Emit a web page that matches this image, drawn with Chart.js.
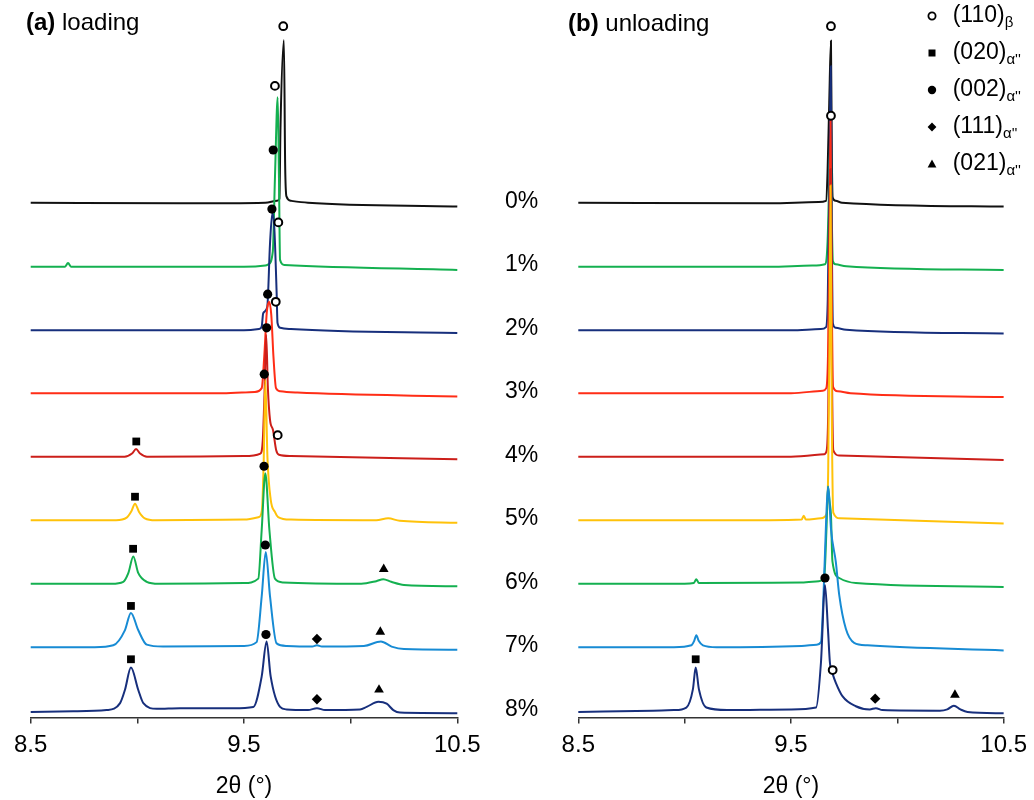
<!DOCTYPE html>
<html><head><meta charset="utf-8">
<script src="https://cdn.jsdelivr.net/npm/chart.js@4.4.1/dist/chart.umd.min.js"></script>
<style>
html,body{margin:0;padding:0;background:#fff;}
#wrap{position:relative;width:1034px;height:800px;font-family:"Liberation Sans",Arial,sans-serif;color:#000;overflow:hidden;}
#wrap canvas{position:absolute;left:0;top:0;}
.lbl{position:absolute;white-space:nowrap;font-size:23px;line-height:23px;}
.ttl{position:absolute;white-space:nowrap;font-size:24px;line-height:24px;}
.pct{position:absolute;width:60px;text-align:center;font-size:23px;line-height:23px;}
.sub{font-size:15px;vertical-align:-5px;}
.sym{position:absolute;}
</style></head><body>
<div id="wrap">
<canvas id="cA" width="1034" height="800" style="width:1034px;height:800px"></canvas>
<canvas id="cB" width="1034" height="800" style="width:1034px;height:800px"></canvas>
<div class="ttl" style="left:26px;top:10px"><b>(a)</b> loading</div>
<div class="ttl" style="left:568px;top:11px"><b>(b)</b> unloading</div>
<div id="pcts"></div>
<div id="legend"></div>
</div>
<script>
// ---------- categories / labels ----------
const strains = ['0%','1%','2%','3%','4%','5%','6%','7%','8%'];
const xTicks = [8.5, 9.0, 9.5, 10.0, 10.5];
const xTickLabels = ['8.5', '', '9.5', '', '10.5'];
const xTitle = '2θ (°)';
const legendNames = ['(110)', '(020)', '(002)', '(111)', '(021)'];
const legendSubs = ['β', "α''", "α''", "α''", "α''"];

// ---------- (a) loading: [2θ, intensity above own baseline] ----------
const load0 = [[8.5,0.02],[9.2,0.01],[9.6,0.02],[9.655,0.05],[9.666,0.08],[9.671,1.2],[9.687,2.58],[9.693,0.6],[9.699,0.12],[9.72,0.05],[9.8,0.02],[10.5,-0.04]];
const load1 = [[8.5,0.01],[8.66,0.01],[8.675,0.07],[8.69,0.01],[9.5,0.01],[9.6,0.03],[9.614,0.05],[9.635,0.25],[9.645,1.4],[9.658,2.68],[9.664,1.4],[9.669,0.12],[9.69,0.04],[10.5,-0.04]];
const load2 = [[8.5,0.01],[9.5,0.01],[9.57,0.03],[9.583,0.07],[9.59,0.28],[9.609,0.38],[9.622,1.38],[9.633,1.86],[9.642,1.63],[9.653,0.6],[9.657,0.13],[9.67,0.05],[9.72,0.03],[10.5,-0.03]];
const load3 = [[8.5,0.02],[9.4,0.02],[9.55,0.04],[9.583,0.1],[9.595,0.6],[9.607,1.3],[9.618,1.46],[9.628,1.25],[9.638,0.6],[9.65,0.1],[9.67,0.05],[9.75,0.03],[10.5,-0.03]];
const load4 = [[8.5,0.02],[8.94,0.02],[8.975,0.07],[8.994,0.14],[9.013,0.07],[9.045,0.02],[9.5,0.03],[9.577,0.07],[9.588,0.28],[9.596,1.0],[9.604,1.94],[9.612,1.1],[9.622,0.6],[9.636,0.44],[9.651,0.12],[9.664,0.05],[9.72,0.03],[10.5,-0.02]];
const load5 = [[8.5,0.02],[8.9,0.02],[8.95,0.06],[8.972,0.16],[8.989,0.28],[9.008,0.15],[9.035,0.05],[9.085,0.02],[9.5,0.03],[9.57,0.07],[9.584,0.18],[9.592,0.9],[9.6,2.23],[9.61,1.0],[9.625,0.35],[9.645,0.15],[9.66,0.07],[9.72,0.03],[10.12,0.02],[10.176,0.05],[10.23,0.01],[10.5,-0.02]];
const load6 = [[8.5,0.02],[8.88,0.02],[8.934,0.05],[8.958,0.19],[8.981,0.45],[9.004,0.19],[9.044,0.05],[9.1,0.02],[9.5,0.03],[9.567,0.1],[9.583,0.87],[9.6,1.76],[9.619,0.87],[9.645,0.1],[9.684,0.04],[10.05,0.02],[10.12,0.06],[10.153,0.09],[10.19,0.05],[10.25,0.0],[10.5,-0.02]];
const load7 = [[8.5,0.02],[8.8,0.02],[8.887,0.05],[8.942,0.29],[8.97,0.56],[9.004,0.29],[9.044,0.06],[9.12,0.03],[9.5,0.04],[9.559,0.1],[9.583,0.82],[9.602,1.52],[9.622,0.82],[9.653,0.08],[9.7,0.04],[9.82,0.03],[9.842,0.05],[9.865,0.03],[10.062,0.04],[10.142,0.11],[10.192,0.03],[10.25,-0.01],[10.5,-0.02]];
const load8 = [[8.5,0.0],[8.7,0.01],[8.856,0.03],[8.919,0.14],[8.942,0.35],[8.97,0.7],[9.004,0.35],[9.028,0.14],[9.091,0.05],[9.2,0.06],[9.45,0.06],[9.544,0.08],[9.583,0.56],[9.606,1.11],[9.625,0.56],[9.669,0.08],[9.7,0.04],[9.8,0.03],[9.842,0.06],[9.88,0.03],[10.044,0.04],[10.075,0.08],[10.13,0.16],[10.169,0.13],[10.2,0.03],[10.231,-0.01],[10.5,-0.02]];

// ---------- (b) unloading ----------
const unload0 = [[8.5,0.02],[9.4,0.01],[9.63,0.03],[9.665,0.05],[9.672,0.5],[9.68,1.6],[9.688,2.57],[9.692,0.8],[9.696,0.1],[9.71,0.05],[9.74,0.02],[10.5,-0.04]];
const unload1 = [[8.5,0.01],[9.4,0.01],[9.6,0.03],[9.66,0.05],[9.672,0.4],[9.68,1.4],[9.687,2.29],[9.692,0.8],[9.697,0.1],[9.71,0.05],[9.76,0.02],[10.5,-0.04]];
const unload2 = [[8.5,0.01],[9.5,0.01],[9.64,0.03],[9.665,0.06],[9.673,0.5],[9.681,2.4],[9.687,4.17],[9.692,1.5],[9.697,0.12],[9.71,0.05],[9.76,0.02],[10.5,-0.04]];
const unload3 = [[8.5,0.02],[9.5,0.02],[9.649,0.06],[9.666,0.1],[9.674,0.6],[9.681,2.5],[9.686,4.31],[9.692,1.5],[9.698,0.12],[9.72,0.05],[9.78,0.02],[10.5,-0.04]];
const unload4 = [[8.5,0.02],[9.5,0.02],[9.657,0.06],[9.668,0.12],[9.675,0.7],[9.681,2.6],[9.686,4.55],[9.692,1.6],[9.699,0.12],[9.727,0.04],[10.5,-0.03]];
const unload5 = [[8.5,0.02],[9.4,0.02],[9.55,0.03],[9.56,0.09],[9.57,0.03],[9.64,0.05],[9.668,0.12],[9.675,0.8],[9.681,2.8],[9.686,5.29],[9.692,1.7],[9.699,0.14],[9.73,0.05],[10.5,-0.03]];
const unload6 = [[8.5,0.02],[9.0,0.02],[9.043,0.03],[9.055,0.09],[9.067,0.03],[9.55,0.04],[9.63,0.06],[9.657,0.16],[9.667,0.89],[9.674,1.55],[9.682,1.3],[9.688,1.1],[9.695,0.37],[9.727,0.11],[9.805,0.03],[10.5,-0.03]];
const unload7 = [[8.5,0.02],[8.95,0.02],[9.032,0.05],[9.045,0.12],[9.055,0.21],[9.066,0.12],[9.086,0.05],[9.15,0.02],[9.55,0.04],[9.62,0.06],[9.641,0.1],[9.653,0.84],[9.664,1.89],[9.674,2.55],[9.681,2.3],[9.688,1.89],[9.711,1.36],[9.727,0.84],[9.758,0.31],[9.797,0.09],[9.86,0.05],[10.5,-0.03]];
const unload8 = [[8.5,0.0],[8.85,0.02],[8.95,0.03],[9.008,0.07],[9.039,0.36],[9.052,0.7],[9.067,0.36],[9.102,0.07],[9.2,0.03],[9.5,0.04],[9.618,0.07],[9.641,0.78],[9.66,2.0],[9.674,1.3],[9.683,0.78],[9.696,0.6],[9.711,0.46],[9.742,0.25],[9.805,0.09],[9.87,0.04],[9.899,0.06],[9.93,0.03],[10.2,0.02],[10.235,0.04],[10.266,0.1],[10.297,0.04],[10.33,0.0],[10.5,-0.02]];

// ---------- peak markers: [2θ, trace index, height above that trace's baseline] ----------
const loadBeta110   = [[9.684,0,2.80],[9.645,1,2.86],[9.661,2,1.71],[9.649,3,1.46],[9.658,4,0.36]];
const loadAlpha020  = [[8.995,4,0.26],[8.989,5,0.39],[8.98,6,0.57],[8.97,7,0.67],[8.97,8,0.83]];
const loadAlpha002  = [[9.637,1,1.85],[9.631,2,1.92],[9.611,3,1.58],[9.606,4,2.05],[9.595,5,2.32],[9.594,6,1.87],[9.6,7,1.63],[9.603,8,1.22]];
const loadAlpha111  = [[9.842,7,0.15],[9.842,8,0.2]];
const loadAlpha021  = [[10.155,6,0.25],[10.139,7,0.26],[10.133,8,0.35]];
const unloadBeta110  = [[9.688,0,2.80],[9.688,1,2.39],[9.696,8,0.66]];
const unloadAlpha020 = [[9.052,8,0.83]];
const unloadAlpha002 = [[9.66,8,2.11]];
const unloadAlpha111 = [[9.896,8,0.21]];
const unloadAlpha021 = [[10.271,8,0.27]];

// ---------- styles ----------
const traceColors = ['#111111','#14b050','#172f7c','#ff2d16','#cc1f1a','#ffc20a','#14b050','#178bd4','#172f7c'];
const markerStyles = [
  {ps:'circle', r:3.9, bg:'#ffffff', bw:2},
  {ps:'rect', r:5.5, bg:'#000000', bw:0},
  {ps:'circle', r:4.6, bg:'#000000', bw:0},
  {ps:'rectRot', r:5.2, bg:'#000000', bw:0},
  {ps:'triangle', r:5.6, bg:'#000000', bw:0}
];

Chart.defaults.font.family = '"Liberation Sans", Arial, sans-serif';
Chart.defaults.color = '#000';
const nTr = strains.length;
const Y_MIN = -0.087, Y_MAX = 11.0;

function traceSets(traces) {
  return traces.map((pts, i) => ({
    data: pts.map(p => ({x: p[0], y: (nTr - 1 - i) + p[1]})),
    showLine: true, borderColor: traceColors[i], borderWidth: 2,
    pointRadius: 0, pointHoverRadius: 0, cubicInterpolationMode: 'monotone',
    fill: false, order: 100 - i, clip: false
  }));
}
function markerSets(groups) {
  return groups.map((list, k) => ({
    data: list.map(m => ({x: m[0], y: (nTr - 1 - m[1]) + m[2]})),
    showLine: false, pointStyle: markerStyles[k].ps, pointRadius: markerStyles[k].r,
    pointHoverRadius: markerStyles[k].r, backgroundColor: markerStyles[k].bg,
    borderColor: '#000', borderWidth: markerStyles[k].bw, order: 0, clip: false
  }));
}
function makeChart(id, traces, markers, padL, padR) {
  return new Chart(document.getElementById(id), {
    type: 'scatter',
    data: {datasets: traceSets(traces).concat(markerSets(markers))},
    options: {
      responsive: false, animation: false, events: [],
      layout: {padding: {left: padL, right: padR, top: 13.5, bottom: 0}},
      plugins: {legend: {display: false}, tooltip: {enabled: false}},
      scales: {
        x: {
          type: 'linear', min: 8.5, max: 10.5,
          afterBuildTicks: s => { s.ticks = xTicks.map(v => ({value: v})); },
          afterFit: s => { s.height = 82.5; },
          ticks: {font: {size: 24}, color: '#000', padding: 7, maxRotation: 0,
                  callback: v => { const k = xTicks.indexOf(v); return k < 0 ? '' : xTickLabels[k]; }},
          grid: {drawOnChartArea: false, drawTicks: true, tickLength: 6, color: '#333', lineWidth: 1.5},
          border: {display: true, color: '#333', width: 1.5},
          title: {display: true, text: xTitle, font: {size: 23}, color: '#000', padding: {top: 0, bottom: 0}}
        },
        y: {type: 'linear', display: false, min: Y_MIN, max: Y_MAX}
      }
    }
  });
}

const chartA = makeChart('cA', [load0,load1,load2,load3,load4,load5,load6,load7,load8],
  [loadBeta110, loadAlpha020, loadAlpha002, loadAlpha111, loadAlpha021], 30.7, 1034 - 457.3);
const chartB = makeChart('cB', [unload0,unload1,unload2,unload3,unload4,unload5,unload6,unload7,unload8],
  [unloadBeta110, unloadAlpha020, unloadAlpha002, unloadAlpha111, unloadAlpha021], 578.3, 1034 - 1005);

// strain labels between panels, placed on each trace's baseline via the y scale
const pcts = document.getElementById('pcts');
strains.forEach((s, i) => {
  const py = chartA.scales.y.getPixelForValue(nTr - 1 - i);
  const d = document.createElement('div');
  d.className = 'pct';
  d.style.left = (521.7 - 30) + 'px';
  d.style.top = (py - 15) + 'px';
  d.textContent = s;
  pcts.appendChild(d);
});

// legend
const svgSyms = [
  '<circle cx="7" cy="7" r="3.6" fill="#fff" stroke="#000" stroke-width="1.8"/>',
  '<rect x="3.5" y="3.5" width="7" height="7" fill="#000"/>',
  '<circle cx="7" cy="7" r="4.2" fill="#000"/>',
  '<polygon points="7,2.6 11.4,7 7,11.4 2.6,7" fill="#000"/>',
  '<polygon points="7,2.6 11.4,10.6 2.6,10.6" fill="#000"/>'
];
const lg = document.getElementById('legend');
legendNames.forEach((n, i) => {
  const s = document.createElement('div');
  s.className = 'sym';
  s.style.left = (932 - 7) + 'px';
  s.style.top = (16 + 37 * i - 7) + 'px';
  s.innerHTML = '<svg width="14" height="14" viewBox="0 0 14 14">' + svgSyms[i] + '</svg>';
  lg.appendChild(s);
  const t = document.createElement('div');
  t.className = 'lbl';
  t.style.left = '952.7px';
  t.style.top = (2.5 + 37 * i) + 'px';
  t.innerHTML = n + '<span class="sub">' + legendSubs[i] + '</span>';
  lg.appendChild(t);
});
</script>
</body></html>
